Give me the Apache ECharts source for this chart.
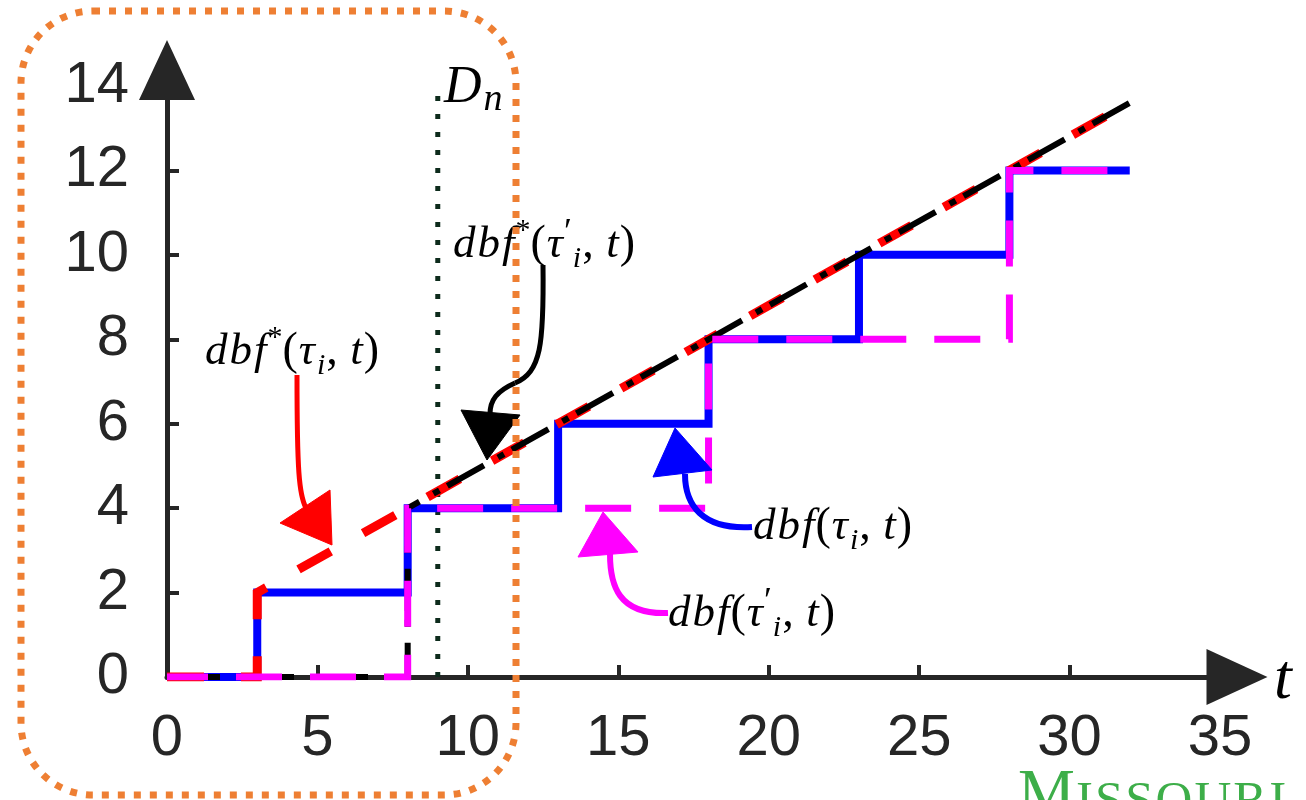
<!DOCTYPE html>
<html><head><meta charset="utf-8">
<script src="https://cdn.jsdelivr.net/npm/echarts@6/dist/echarts.min.js"></script>
<style>html,body{margin:0;padding:0;background:#fff}#c{width:1306px;height:800px}</style>
</head><body><div id="c"></div>
<script>
// ---- data ----
const xTickValues = [0, 5, 10, 15, 20, 25, 30, 35];
const yTickValues = [0, 2, 4, 6, 8, 10, 12, 14];
// dbf(tau_i, t)  (blue, solid)
const dbfT  = [0, 3, 3, 8, 8, 13, 13, 18, 18, 23, 23, 28, 28, 32];
const dbfV  = [0, 0, 2, 2, 4, 4, 6, 6, 8, 8, 10, 10, 12, 12];
// dbf(tau'_i, t)  (magenta, dashed)
const dbfPT = [0, 8, 8, 18, 18, 28, 28, 32];
const dbfPV = [0, 0, 4, 4, 8, 8, 12, 12];
// dbf*(tau_i, t)  (red, dashed)
const dbfStarT = [0, 3, 3, 32];
const dbfStarV = [0, 0, 2, 13.6];
// dbf*(tau'_i, t)  (black, dash-dot)
const dbfStarPT = [0, 8, 8, 32];
const dbfStarPV = [0, 0, 4, 13.6];
// deadline D_n
const deadlineT = [9, 9];
const deadlineV = [0, 14];

const pairs = (a, b) => a.map((v, i) => [v, b[i]]);

const AX = '#262626';
const SERIF = 'Liberation Serif';
const mathRich = {
  it:  {fontFamily: SERIF, fontStyle: 'italic', fontSize: 45, lineHeight: 58, padding: [0, 1], fill: '#000'},
  rm:  {fontFamily: SERIF, fontSize: 46, lineHeight: 58, fill: '#000'},
  sup: {fontFamily: SERIF, fontSize: 30, lineHeight: 32, verticalAlign: 'top', fill: '#000'},
  pr:  {fontFamily: SERIF, fontSize: 36, lineHeight: 36, verticalAlign: 'top', fill: '#000'},
  sub: {fontFamily: SERIF, fontStyle: 'italic', fontSize: 30, lineHeight: 32, verticalAlign: 'bottom', padding: [0, 1], fill: '#000'}
};
const lblRed   = '{it|d}{it|b}{it|f}{sup|*}{rm|(}{it|τ}{sub|i}{rm|, }{it|t}{rm|)}';
const lblBlack = '{it|d}{it|b}{it|f}{sup|*}{rm|(}{it|τ}{pr|′}{sub|i}{rm|, }{it|t}{rm|)}';
const lblBlue  = '{it|d}{it|b}{it|f}{rm|(}{it|τ}{sub|i}{rm|, }{it|t}{rm|)}';
const lblMag   = '{it|d}{it|b}{it|f}{rm|(}{it|τ}{pr|′}{sub|i}{rm|, }{it|t}{rm|)}';

function mathText(x, y, text) {
  return {type: 'text', z: 20, style: {x: x, y: y, text: text, rich: mathRich, align: 'left', verticalAlign: 'middle'}};
}
function curve(p, color, w) {
  return {type: 'bezierCurve', z: 20, shape: {x1: p[0], y1: p[1], cpx1: p[2], cpy1: p[3], cpx2: p[4], cpy2: p[5], x2: p[6], y2: p[7]},
          style: {stroke: color, lineWidth: w, fill: null}};
}
function head(pts, color) {
  return {type: 'polygon', z: 20, shape: {points: pts}, style: {fill: color, stroke: color, lineWidth: 1, lineJoin: 'round'}};
}

const chart = echarts.init(document.getElementById('c'), null, {renderer: 'canvas'});
const baseLine = {type: 'line', symbol: 'none', showSymbol: false, silent: true, animation: false};

chart.setOption({
  animation: false,
  backgroundColor: '#fff',
  grid: {left: 167, right: 86, top: 86, bottom: 123, containLabel: false, outerBoundsMode: 'none'},
  xAxis: {
    type: 'value', min: xTickValues[0], max: xTickValues[xTickValues.length - 1], interval: 5,
    axisLine: {show: true, onZero: false, lineStyle: {color: AX, width: 5}, symbol: ['none', 'triangle'], symbolSize: [56, 61], symbolOffset: [0, 17]},
    axisTick: {show: true, inside: true, length: 12, lineStyle: {color: AX, width: 4}},
    axisLabel: {fontSize: 58, fontFamily: 'Liberation Sans', color: AX, margin: 33},
    splitLine: {show: false}
  },
  yAxis: {
    type: 'value', min: yTickValues[0], max: yTickValues[yTickValues.length - 1], interval: 2,
    axisLine: {show: true, onZero: false, lineStyle: {color: AX, width: 5}, symbol: ['none', 'triangle'], symbolSize: [56, 60], symbolOffset: [0, 16]},
    axisTick: {show: true, inside: true, length: 12, lineStyle: {color: AX, width: 4}},
    axisLabel: {fontSize: 58, fontFamily: 'Liberation Sans', color: AX, margin: 38},
    splitLine: {show: false}
  },
  series: [
    Object.assign({}, baseLine, {name: 'Dn', z: 1, data: pairs(deadlineT, deadlineV),
      lineStyle: {color: '#0d2b1c', width: 5, type: [5, 13], cap: 'butt'}}),
    Object.assign({}, baseLine, {name: 'dbf', z: 2, data: pairs(dbfT, dbfV),
      lineStyle: {color: '#0000ff', width: 8, type: 'solid', cap: 'butt', join: 'miter'}}),
    Object.assign({}, baseLine, {name: 'dbfStar', z: 3, data: pairs(dbfStarT, dbfStarV),
      lineStyle: {color: '#ff0000', width: 9, type: [37, 37], dashOffset: 0, cap: 'butt', join: 'miter'}}),
    Object.assign({}, baseLine, {name: 'dbfStarP', z: 4, data: pairs(dbfStarPT, dbfStarPV),
      lineStyle: {color: '#000000', width: 6, type: [7, 9, 42, 16], dashOffset: 5, cap: 'butt', join: 'miter'}}),
    Object.assign({}, baseLine, {name: 'dbfP', z: 5, data: pairs(dbfPT, dbfPV),
      lineStyle: {color: '#ff00ff', width: 7, type: [46, 28], dashOffset: 5, cap: 'butt', join: 'miter'}})
  ],
  graphic: {elements: [
    // annotation labels
    mathText(204, 352, lblRed),
    mathText(452, 245, lblBlack),
    mathText(752, 527, lblBlue),
    mathText(667, 614, lblMag),
    // arrows
    curve([297, 375, 297, 470, 299, 495, 306, 508], '#ff0000', 5),
    head([[280, 523], [330, 490], [332, 545]], '#ff0000'),
    curve([543, 265, 544, 345, 541, 372, 515, 383], '#000000', 5),
    curve([515, 383, 497, 391, 490, 400, 490, 414], '#000000', 5),
    head([[461, 410], [520, 415], [487, 460]], '#000000'),
    curve([752, 527, 702, 530, 685, 505, 685, 474], '#0000ff', 6),
    head([[653, 477], [712, 470], [675, 428]], '#0000ff'),
    curve([668, 613, 618, 615, 610, 585, 610, 554], '#ff00ff', 6),
    head([[578, 557], [638, 552], [603, 512]], '#ff00ff'),
    // D_n label
    {type: 'text', z: 20, style: {x: 444, y: 88, align: 'left', verticalAlign: 'middle',
      text: '{D|D}{n|n}',
      rich: {D: {fontFamily: SERIF, fontStyle: 'italic', fontSize: 52, lineHeight: 62, fill: '#000'},
             n: {fontFamily: SERIF, fontStyle: 'italic', fontSize: 38, lineHeight: 38, verticalAlign: 'bottom', padding: [0, 2], fill: '#000'}}}},
    // t axis name
    {type: 'text', z: 20, style: {x: 1283, y: 681, align: 'center', verticalAlign: 'middle', text: 't',
      fontFamily: SERIF, fontStyle: 'italic', fontSize: 64, fill: '#000'}},
    // orange dotted rounded box
    {type: 'rect', z: 30, shape: {x: 21, y: 11, width: 495, height: 784, r: 72},
      style: {fill: null, stroke: '#ee7f33', lineWidth: 7, lineDash: [7, 9]}},
    // logo text
    {type: 'text', z: 20, style: {x: 1018, y: 764, align: 'left', verticalAlign: 'top',
      text: '{M|M}{s|I}{s|S}{s|S}{s|O}{s|U}{s|R}{s|I}',
      rich: {M: {fontFamily: SERIF, fontSize: 64, lineHeight: 64, verticalAlign: 'bottom', fill: '#3dae49'},
             s: {fontFamily: SERIF, fontSize: 51, lineHeight: 51, verticalAlign: 'bottom', padding: [0, 1], fill: '#3dae49'}}}}
  ]}
});
</script>
</body></html>
